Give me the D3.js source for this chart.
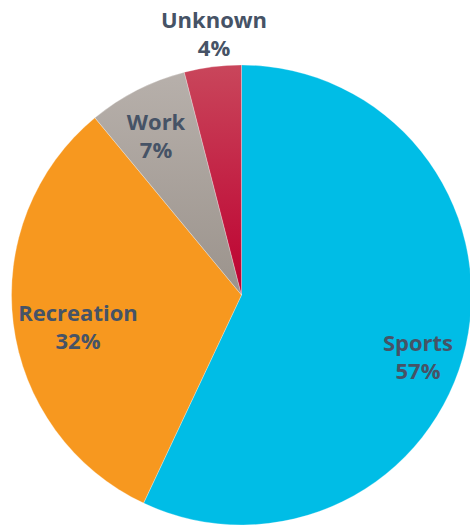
<!DOCTYPE html>
<html><head><meta charset="utf-8">
<script src="https://cdn.jsdelivr.net/npm/d3@7"></script>
<style>html,body{margin:0;padding:0;background:#fff;}</style>
</head><body>
<svg id="chart" width="470" height="525"></svg>
<script>
const categories = ["Sports", "Recreation", "Work", "Unknown"];
const values = [57, 32, 7, 4];
const labels = ["57%", "32%", "7%", "4%"];

const svg = d3.select("#chart");
const cx = 241.5, cy = 295, R = 230;
const defs = svg.append("defs");
function grad(id, c1, c2) {
  const g = defs.append("linearGradient").attr("id", id)
    .attr("gradientUnits", "userSpaceOnUse")
    .attr("x1", 0).attr("y1", -R).attr("x2", 0).attr("y2", 0);
  g.append("stop").attr("offset", "0%").attr("stop-color", c1);
  g.append("stop").attr("offset", "100%").attr("stop-color", c2);
}
grad("gWork", "#b8b1ac", "#9b938c");
grad("gUnk", "#c9465b", "#bd0030");
const fills = ["#00bde6", "#f7981f", "url(#gWork)", "url(#gUnk)"];

const pie = d3.pie().sort(null).value(d => d);
const arcs = pie(values);
const arc = d3.arc().innerRadius(0).outerRadius(R);
const g = svg.append("g").attr("transform", `translate(${cx},${cy})`);
g.selectAll("path").data(arcs).join("path")
  .attr("d", arc)
  .attr("fill", (d, i) => fills[i])
  .attr("stroke", "#ffffff").attr("stroke-opacity", 0.35).attr("stroke-width", 0.8);

const manual = [[418, 343], [78, 313], [156, 122], [214, 20]];
const txt = svg.append("g")
  .attr("font-family", "'Open Sans', 'Noto Sans', sans-serif")
  .attr("font-weight", "bold").attr("font-size", 22)
  .attr("fill", "#465366").attr("text-anchor", "middle");
arcs.forEach((d, i) => {
  const [x, y] = manual[i];
  const t = txt.append("text").attr("x", x).attr("y", y + 8);
  t.append("tspan").attr("x", x).attr("dy", 0).text(categories[i]);
  t.append("tspan").attr("x", x).attr("dy", 28).text(labels[i]);
});
</script>
</body></html>
